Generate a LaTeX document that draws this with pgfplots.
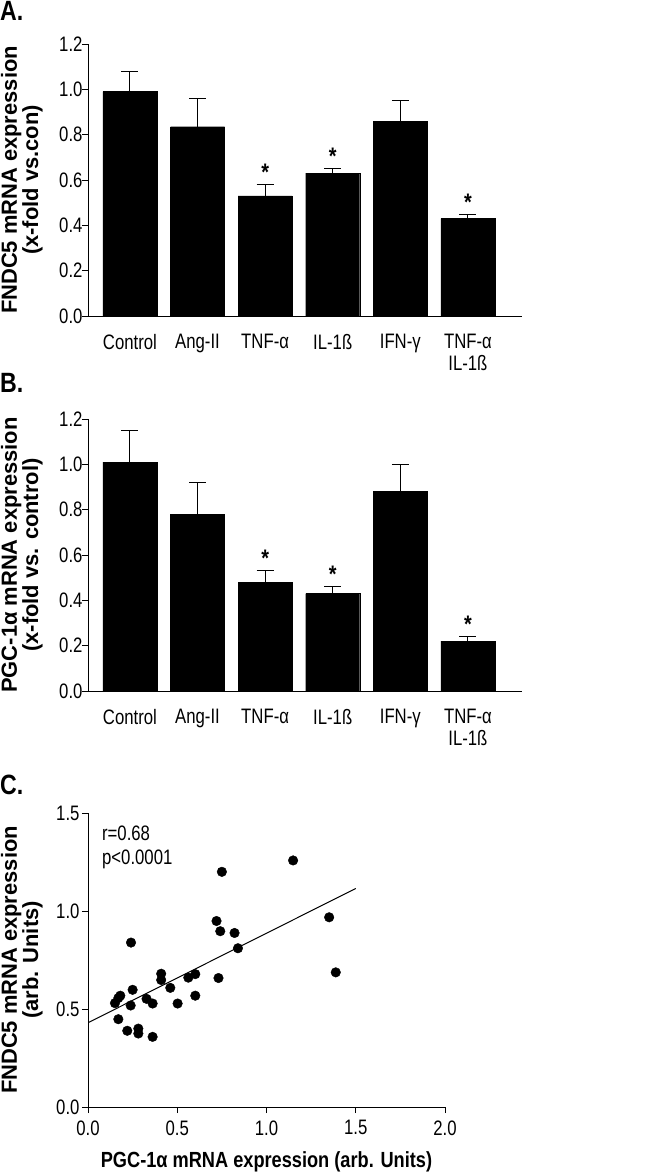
\documentclass[border=0pt]{standalone}
\usepackage{fontspec}
\setmainfont{Liberation Sans}[FakeStretch=0.8]
\newfontfamily\lblfont{Liberation Sans}
\newfontfamily\lblfontn{Liberation Sans}[FakeStretch=0.83]
\usepackage{pgfplots}
\usepackage{pgfplotstable}
\pgfplotsset{compat=1.18}

% FNDC5 expression (panel A)
\pgfplotstableread{
x y err
0 0.99 0.09
1 0.835 0.125
2 0.53 0.05
3 0.63 0.02
4 0.86 0.09
5 0.43 0.02
}\fndcdata

% PGC-1alpha expression (panel B)
\pgfplotstableread{
x y err
0 1.01 0.14
1 0.78 0.14
2 0.48 0.05
3 0.43 0.03
4 0.88 0.12
5 0.22 0.02
}\pgcdata

% correlation (panel C)
\pgfplotstableread{
x y
1.149 1.258
0.750 1.200
0.720 0.949
0.741 0.897
0.821 0.888
0.840 0.810
1.351 0.968
1.388 0.687
0.241 0.839
0.410 0.680
0.410 0.648
0.562 0.660
0.601 0.678
0.731 0.658
0.461 0.608
0.601 0.568
0.502 0.528
0.250 0.598
0.328 0.552
0.362 0.528
0.239 0.518
0.151 0.530
0.170 0.556
0.181 0.568
0.170 0.448
0.220 0.389
0.282 0.400
0.282 0.375
0.362 0.358
}\corrdata

\pgfplotsset{
  panel/.style={
    scale only axis,
    axis x line=bottom, axis y line=left,
    axis line style={-, line width=1bp},
    tick style={line width=1bp, black},
    major tick length=6bp, tick align=outside,
    ticklabel style={font=\fontsize{21}{22}\selectfont},
    /pgf/number format/.cd, fixed, fixed zerofill, precision=1, assume math mode=true,
    /pgfplots/.cd,
    ylabel style={font=\lblfont\bfseries\fontsize{22}{19.5}\selectfont, align=center,
      anchor=south, inner sep=0pt},
  },
  barpanel/.style={
    panel,
    width=434bp, height=272bp,
    xmin=-0.62, xmax=5.8, ymin=0, ymax=1.2,
    ytick={0,0.2,0.4,0.6,0.8,1.0,1.2},
    xtick={0,1,2,3,4,5},
    xticklabels={Control,Ang-II,TNF-α,IL-1ß,IFN-γ,{TNF-α\\IL-1ß}},
    xtick style={draw=none},
    xticklabel style={align=center, yshift=-9bp},
    yticklabel style={xshift=4bp},
    ylabel style={at={(axis description cs:-0.1037,0.5)}},
  },
  bars/.style={
    ybar, bar width=54bp, fill=black, draw=black,
    error bars/.cd, y dir=plus, y explicit,
    error bar style={line width=1bp, black},
    error mark options={rotate=90, mark size=8.5bp, line width=1bp, black},
  },
  stars/.style={
    draw=none, nodes near coords, point meta=explicit symbolic,
    every node near coord/.style={font=\lblfontn\bfseries\fontsize{24}{24}\selectfont,
      anchor=base, inner sep=0pt, yshift=4bp},
  },
}

\begin{document}
\begin{tikzpicture}
\useasboundingbox (0,0) rectangle (647bp,-1175bp);

\node[anchor=north west, inner sep=0pt, font=\lblfontn\bfseries\fontsize{28}{28}\selectfont] at (0bp,-1bp) {A.};
\node[anchor=north west, inner sep=0pt, font=\lblfontn\bfseries\fontsize{28}{28}\selectfont] at (0bp,-373bp) {B.};
\node[anchor=north west, inner sep=0pt, font=\lblfontn\bfseries\fontsize{28}{28}\selectfont] at (0bp,-775bp) {C.};

\begin{axis}[barpanel, at={(88bp,-316bp)}, anchor=south west,
  ylabel={FNDC5 mRNA expression\\(x-fold vs.con)}]
\addplot[bars] table[x=x, y=y, y error=err] {\fndcdata};
\addplot[stars] coordinates {(2,0.58)[*] (3,0.65)[*] (5,0.45)[*]};
\end{axis}

\begin{axis}[barpanel, at={(88bp,-691bp)}, anchor=south west,
  ylabel={PGC-1α mRNA expression\\(x-fold vs. control)}]
\addplot[bars] table[x=x, y=y, y error=err] {\pgcdata};
\addplot[stars] coordinates {(2,0.53)[*] (3,0.46)[*] (5,0.24)[*]};
\end{axis}

\begin{axis}[panel, at={(88bp,-1107bp)}, anchor=south west,
  width=357bp, height=294bp,
  xmin=0, xmax=2, ymin=0, ymax=1.5,
  xtick={0,0.5,1.0,1.5,2.0}, ytick={0,0.5,1.0,1.5},
  xticklabel style={yshift=-4bp},
  yticklabel style={xshift=1bp},
  ylabel style={at={(axis description cs:-0.1261,0.5)}},
  xlabel style={font=\lblfontn\bfseries\fontsize{22}{24}\selectfont,
    at={(axis description cs:0.5,0)}, anchor=north, inner sep=0pt, yshift=-44bp},
  xlabel={PGC-1α mRNA expression (arb. Units)},
  ylabel={FNDC5 mRNA expression\\(arb. Units)}]
\addplot[only marks, mark=*, mark size=4.8bp, black] table[x=x, y=y] {\corrdata};
\addplot[black, line width=1bp] coordinates {(0,0.43) (1.5,1.115)};
\node[anchor=base west, inner sep=0pt, font=\fontsize{21}{22}\selectfont] at (axis cs:0.078,1.362) {r=0.68};
\node[anchor=base west, inner sep=0pt, font=\fontsize{21}{22}\selectfont] at (axis cs:0.078,1.235) {p<0.0001};
\end{axis}
\end{tikzpicture}
\end{document}
